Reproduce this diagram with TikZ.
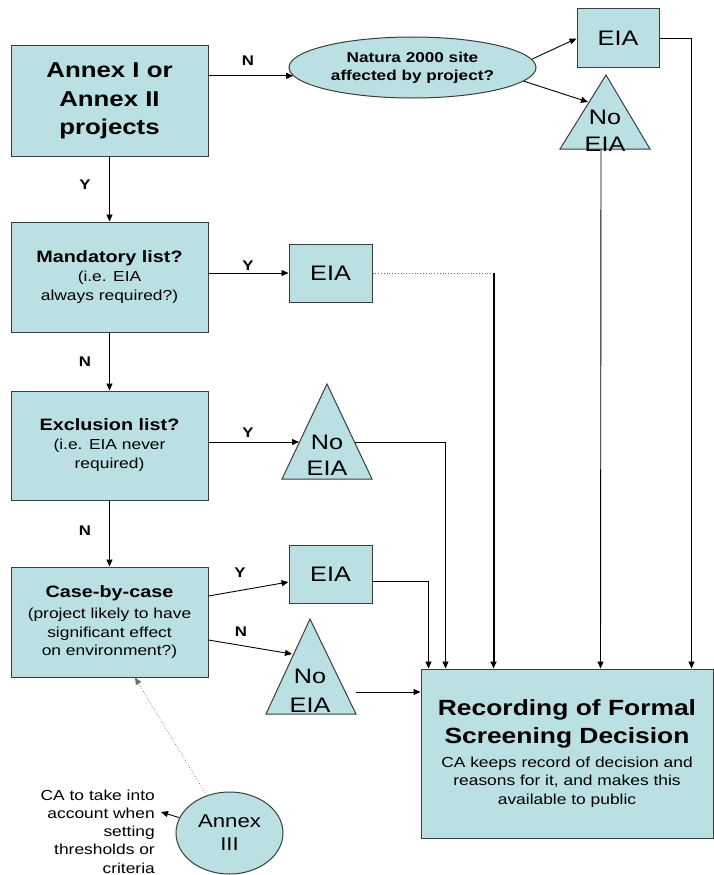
\documentclass[tikz,border=0pt]{standalone}
\usepackage{fontspec}
\setmainfont{Liberation Sans}[FakeStretch=1.2]
\usetikzlibrary{arrows.meta,shapes.geometric,calc}

\definecolor{boxfill}{RGB}{187,224,227}
\definecolor{boxline}{RGB}{60,60,60}
\definecolor{dotgray}{RGB}{110,110,110}

% font size helper: size and baseline skip, fixed line pitch
\newcommand\fsz[2]{\fontsize{#1}{#2}\selectfont\lineskiplimit=-100pt\relax}

\begin{document}
\begin{tikzpicture}[x=1pt,y=-1pt,
  flow/.style={rectangle, draw=boxline, fill=boxfill, line width=1pt,
    inner sep=0pt, align=center},
  oval/.style={ellipse, draw=boxline, fill=boxfill, line width=1pt,
    inner sep=0pt, align=center},
  tri/.style={draw=boxline, fill=boxfill, line width=1pt, line join=miter},
  tritext/.style={inner sep=0pt, align=center, font=\fsz{21}{27}},
  arr/.style={draw=black, line width=0.9pt, -{Triangle[length=7pt,width=6pt]}},
  heavyarr/.style={draw=black, line width=2pt, -{Triangle[length=7pt,width=6pt]}},
  dotline/.style={draw=dotgray, line width=0.8pt, dotted},
  dotarr/.style={draw=dotgray, line width=0.7pt, dotted,
    -{Triangle[length=7pt,width=6pt]}},
  lbl/.style={inner sep=0pt, font=\fsz{14}{16}\bfseries},
  boxtitle/.style={font=\fsz{16.5}{19}\bfseries}
]
\useasboundingbox (0,0) rectangle (714,875);

% ---- main decision column ----
\node[flow, minimum width=197pt, minimum height=110pt,
      font=\fsz{21.5}{28.5}\bfseries] (annex1) at (109.5,101)
  {Annex I or\\Annex II\\projects};

\node[flow, minimum width=197pt, minimum height=110pt,
      font=\fsz{14.5}{19}] (mand) at (109.5,277)
  {{\bfseries\fontsize{16.5}{19}\selectfont Mandatory list?}\\(i.e. EIA\\always required?)};

\node[flow, minimum width=197pt, minimum height=109pt,
      font=\fsz{14.5}{19}] (excl) at (109.5,445.5)
  {{\bfseries\fontsize{16.5}{19}\selectfont Exclusion list?}\\(i.e. EIA never\\required)};

\node[flow, minimum width=197pt, minimum height=110pt,
      font=\fsz{14.5}{18.5}] (case) at (109.5,622)
  {{\bfseries\fontsize{16.5}{19}\selectfont Case-by-case}\\[3pt](project likely to have\\significant effect\\on environment?)};

% ---- Natura 2000 branch ----
\node[oval, minimum width=247pt, minimum height=61pt,
      font=\fsz{14.3}{18}\bfseries] (natura) at (412.5,67.5)
  {Natura 2000 site\\affected by project?};

\node[flow, minimum width=82pt, minimum height=59pt, font=\fsz{21}{24}]
  (eia1) at (618,38.5) {EIA};

\path[tri] (606,75) -- (650,149) -- (560,149) -- cycle;
\node[tritext] (ne1) at (605,131) {No\\EIA};
\coordinate (ne1w) at (588,102);
\coordinate (ne1b) at (601,149);

% ---- outcome boxes beside the column ----
\node[flow, minimum width=83pt, minimum height=58pt, font=\fsz{21}{24}]
  (eia2) at (330.5,273) {EIA};

\path[tri] (327,384) -- (372,479) -- (282,479) -- cycle;
\node[tritext, font=\fsz{21}{26}] (ne2) at (327,455) {No\\EIA};
\coordinate (ne2w) at (299,442);
\coordinate (ne2e) at (355,442);

\node[flow, minimum width=83pt, minimum height=58pt, font=\fsz{21}{24}]
  (eia3) at (330.5,574) {EIA};

\path[tri] (310,619) -- (356,714) -- (266,714) -- cycle;
\node[tritext, font=\fsz{21}{29}] (ne3) at (310,690.5) {No\\EIA};
\coordinate (ne3w) at (292,654);
\coordinate (ne3e) at (356,692);

% ---- final record ----
\node[flow, minimum width=292pt, minimum height=169pt,
      font=\fsz{14.5}{18.5}] (rec) at (567,753.5)
  {{\bfseries\fontsize{22}{28}\selectfont Recording of Formal}\\[9.5pt]
   {\bfseries\fontsize{22}{28}\selectfont Screening Decision}\\[5.5pt]
   CA keeps record of decision and\\reasons for it, and makes this\\available to public};

\coordinate (r1) at ($(rec.north west)+(8,0)$);
\coordinate (r2) at ($(rec.north west)+(25,0)$);
\coordinate (r3) at ($(rec.north west)+(73,0)$);
\coordinate (r4) at ($(rec.north west)+(180,0)$);
\coordinate (r5) at ($(rec.north west)+(271,0)$);

% ---- Annex III ----
\node[oval, minimum width=107pt, minimum height=82pt, font=\fsz{18.5}{23}]
  (annex3) at (229.5,833) {Annex\\III};
\node[inner sep=0pt, align=right, font=\fsz{14.5}{18.3}, anchor=east]
  (catext) at (155,831.5)
  {CA to take into\\account when\\setting\\thresholds or\\criteria};
\coordinate (catip) at (161,812);
\coordinate (cbin) at ($(case.south)+(25.5,0)$);

% ---- connectors ----
\draw[arr] (annex1.east |- natura.184) -- (natura.184);
\node[lbl] (lN0) at (248,61) {N};
\draw[arr] (natura.4) -- (eia1.west);
\draw[arr] (natura.-7) -- (ne1w);
\draw[arr] (eia1.east) -| (r5);
\draw[arr] (ne1b) -- (r4);

\draw[arr] (annex1) -- (mand);
\node[lbl] (lY1) at (85,185) {Y};
\draw[arr] (mand.east |- eia2.west) -- (eia2.west);
\node[lbl] (lY2) at (248,266) {Y};
\draw[dotline] (eia2.east) -- (eia2.east -| r3);
\draw[heavyarr] (eia2.east -| r3) -- (r3);

\draw[arr] (mand) -- (excl);
\node[lbl] (lN2) at (85,362) {N};
\draw[arr] (excl.east |- ne2w) -- (ne2w);
\node[lbl] (lY3) at (248,433) {Y};
\draw[arr] (ne2e) -| (r2);

\draw[arr] (excl) -- (case);
\node[lbl] (lN3) at (85,531) {N};
\draw[arr] ([yshift=26pt]case.east) -- ([yshift=-8pt]eia3.west);
\node[lbl] (lY4) at (240,573) {Y};
\draw[arr] ([yshift=-7pt]eia3.east) -| (r1);
\draw[arr] ([yshift=-18pt]case.east) -- (ne3w);
\node[lbl] (lN4) at (241,632) {N};
\draw[arr] (ne3e) -- (ne3e -| rec.west);

\draw[dotarr] (annex3) -- (cbin);
\draw[arr] (annex3) -- (catip);
\end{tikzpicture}
\end{document}
